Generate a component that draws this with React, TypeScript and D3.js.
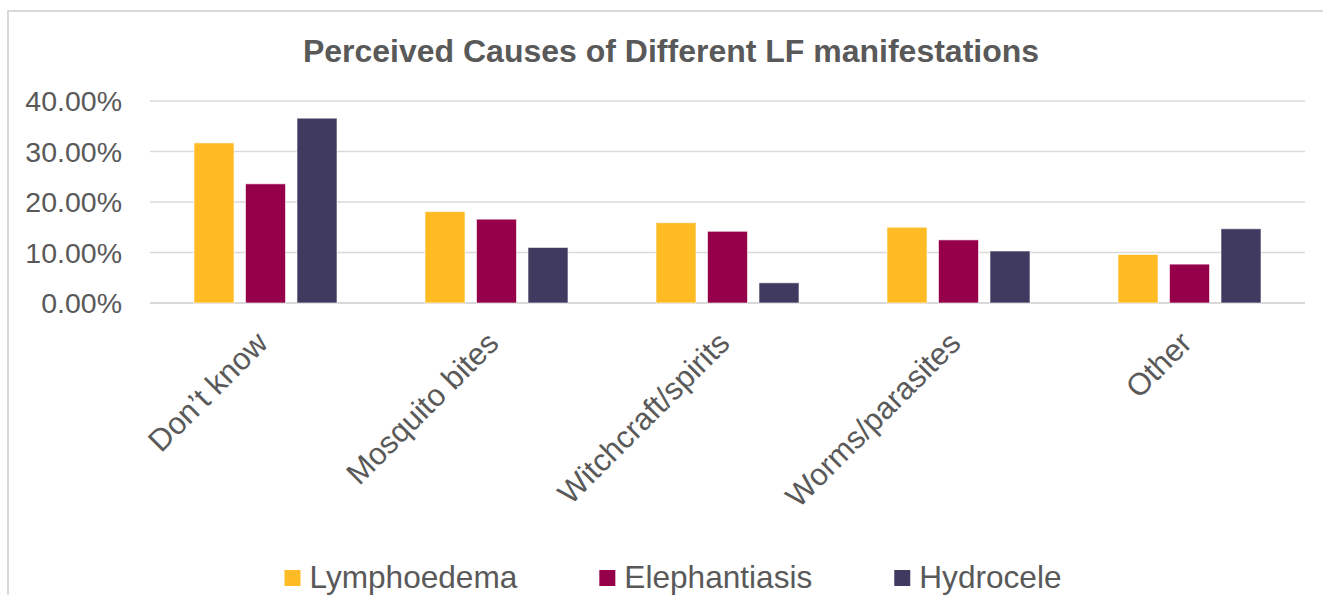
import React, { useRef, useEffect } from 'react';
import * as d3 from 'd3';

const categories = ['Don’t know', 'Mosquito bites', 'Witchcraft/spirits', 'Worms/parasites', 'Other'];
const seriesNames = ['Lymphoedema', 'Elephantiasis', 'Hydrocele'];
const lymphoedema = [31.7, 18.1, 15.9, 15.0, 9.6];
const elephantiasis = [23.6, 16.6, 14.2, 12.5, 7.7];
const hydrocele = [36.6, 11.0, 4.0, 10.3, 14.7];
const yTicks = [0, 10, 20, 30, 40];
const colors = ['#FEBB23', '#96004B', '#403A60'];

const W = 1323;
const H = 595;
const TEXT = '#595959';
const GRID = '#d9d9d9';
const FONT = 'Liberation Sans, Arial, sans-serif';

const App: React.FC = () => {
  const svgRef = useRef<SVGSVGElement>(null);

  useEffect(() => {
    if (!svgRef.current) return;
    const svg = d3.select(svgRef.current);
    svg.selectAll('*').remove();

    const values = [lymphoedema, elephantiasis, hydrocele];
    const plot = { left: 150, right: 1305, top: 101, bottom: 303 };

    // frame (runs past the window on the right and bottom)
    svg.append('line').attr('x1', 7).attr('x2', W).attr('y1', 11).attr('y2', 11)
      .attr('stroke', GRID).attr('stroke-width', 2);
    svg.append('line').attr('x1', 8).attr('x2', 8).attr('y1', 10).attr('y2', H)
      .attr('stroke', GRID).attr('stroke-width', 2);

    // title
    svg.append('text')
      .attr('x', 671).attr('y', 62)
      .attr('text-anchor', 'middle')
      .attr('font-family', FONT)
      .attr('font-weight', 'bold')
      .attr('font-size', 32)
      .attr('fill', TEXT)
      .text('Perceived Causes of Different LF manifestations');

    // scales
    const x0 = d3.scaleBand().domain(categories).range([plot.left, plot.right]).padding(0);
    const x1 = d3.scaleBand().domain(seriesNames).range([44, 187]).paddingInner(0.223).paddingOuter(0);
    const y = d3.scaleLinear().domain([0, 40]).range([plot.bottom, plot.top]);

    // grid + y labels
    const yAxis = svg.append('g');
    yTicks.forEach(t => {
      yAxis.append('line')
        .attr('x1', plot.left).attr('x2', plot.right)
        .attr('y1', y(t)).attr('y2', y(t))
        .attr('stroke', GRID).attr('stroke-width', t === 0 ? 2 : 1.5);
      yAxis.append('text')
        .attr('x', 122).attr('y', y(t) + 10)
        .attr('text-anchor', 'end')
        .attr('font-family', FONT)
        .attr('font-size', 28.5)
        .attr('fill', TEXT)
        .text(d3.format('.2f')(t) + '%');
    });

    // bars
    seriesNames.forEach((s, si) => {
      svg.append('g')
        .selectAll('rect')
        .data(values[si])
        .enter()
        .append('rect')
        .attr('x', (_, i) => x0(categories[i])! + x1(s)!)
        .attr('y', d => y(d))
        .attr('width', x1.bandwidth())
        .attr('height', d => y(0) - y(d))
        .attr('fill', colors[si])
        .attr('stroke', '#ffffff')
        .attr('stroke-opacity', 0.6)
        .attr('stroke-width', 1);
    });

    // category labels
    categories.forEach(c => {
      const cx = x0(c)! + x0.bandwidth() / 2;
      svg.append('text')
        .attr('transform', `translate(${cx + 4},345) rotate(-45)`)
        .attr('text-anchor', 'end')
        .attr('font-family', FONT)
        .attr('font-size', 31)
        .attr('fill', TEXT)
        .text(c);
    });

    // legend, centred under the title
    const legend = svg.append('g');
    const items = seriesNames.map((s, i) => {
      const g = legend.append('g');
      g.append('rect').attr('width', 16).attr('height', 16).attr('y', 570).attr('fill', colors[i]);
      const t = g.append('text')
        .attr('x', 25).attr('y', 588)
        .attr('font-family', FONT)
        .attr('font-size', 31.6)
        .attr('fill', TEXT)
        .text(s);
      const w = 25 + (t.node() as SVGTextElement).getComputedTextLength();
      return { g, w };
    });
    const gap = 82;
    const total = d3.sum(items, d => d.w) + gap * (items.length - 1);
    let cur = 673 - total / 2;
    items.forEach(it => {
      it.g.attr('transform', `translate(${cur},0)`);
      cur += it.w + gap;
    });
  }, []);

  return (
    <div style={{ position: 'fixed', left: 0, top: 0, width: W, height: H, background: '#fff' }}>
      <svg ref={svgRef} width={W} height={H} style={{ display: 'block' }} />
    </div>
  );
};

export default App;
